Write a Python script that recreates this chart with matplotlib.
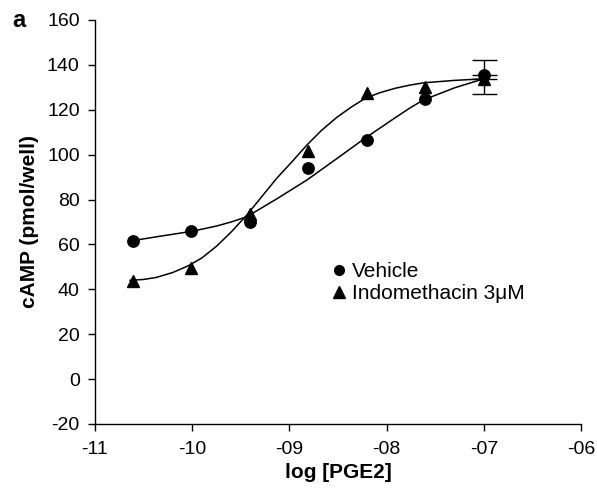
import matplotlib
matplotlib.use("Agg")
import matplotlib.pyplot as plt
from matplotlib.lines import Line2D

plt.rcParams['font.family'] = ['Liberation Sans', 'DejaVu Sans']
plt.rcParams['axes.unicode_minus'] = False

# Data (log [PGE2], cAMP pmol/well)
log_pge2 = [-10.61, -10.01, -9.41, -8.81, -8.20, -7.60, -7.0]
vehicle = [61.7, 65.8, 69.9, 94.1, 106.5, 125.0, 135.5]
indometh = [43.5, 49.5, 73.5, 101.6, 127.6, 130.3, 133.6]
# error bar only on the highest concentration (upper half on vehicle, lower half on indomethacin)
err_x = [-7.0]
veh_err_y = [135.5]
veh_err_up = [6.7]
ind_err_y = [133.6]
ind_err_down = [6.7]

# Fitted curves
veh_curve_x = [-10.64, -10.34, -10.04, -9.9, -9.75, -9.6, -9.44, -9.13, -8.82, -8.52,
               -8.22, -8.07, -7.91, -7.76, -7.62, -7.3, -7.0]
veh_curve_y = [61.5, 63.6, 65.6, 66.8, 68.2, 70.0, 72.3, 80.3, 88.7, 98.0,
               107.4, 111.8, 116.5, 120.8, 124.4, 129.8, 133.8]
ind_curve_x = [-10.64, -10.5, -10.37, -10.2, -10.04, -9.9, -9.75, -9.6, -9.44, -9.29,
               -9.13, -8.97, -8.82, -8.67, -8.51, -8.36, -8.22, -8.07, -7.91, -7.76,
               -7.62, -7.3, -7.0]
ind_curve_y = [44.0, 44.4, 45.3, 47.5, 50.5, 54.0, 59.2, 65.5, 73.0, 81.0,
               89.5, 97.0, 104.3, 110.8, 116.7, 121.3, 125.1, 127.6, 129.6, 131.0,
               132.0, 133.1, 133.8]

x_ticks = [-11, -10, -9, -8, -7, -6]
x_tick_labels = ['-11', '-10', '-09', '-08', '-07', '-06']
y_ticks = list(range(-20, 161, 20))

fig = plt.figure(figsize=(5.97, 4.88), dpi=100)
ax = fig.add_axes([95 / 597, 1 - 424 / 488, 486 / 597, 404 / 488])

ax.plot(veh_curve_x, veh_curve_y, color='black', lw=1.1, zorder=2)
ax.plot(ind_curve_x, ind_curve_y, color='black', lw=1.1, zorder=2)

ax.plot(log_pge2, vehicle, 'o', color='black', markersize=8.2, zorder=3)
ax.plot(log_pge2, indometh, '^', color='black', markersize=9, zorder=3)
ax.errorbar(err_x, veh_err_y, yerr=[[0], veh_err_up], fmt='none', ecolor='black',
            capsize=9, elinewidth=1, capthick=1, zorder=3)
ax.errorbar(err_x, ind_err_y, yerr=[ind_err_down, [0]], fmt='none', ecolor='black',
            capsize=9, elinewidth=1, capthick=1, zorder=3)

ax.set_xlim(-11, -6)
ax.set_ylim(-20, 160)
ax.set_xticks(x_ticks)
ax.set_xticklabels(x_tick_labels)
ax.set_yticks(y_ticks)
ax.tick_params(direction='out', length=5, width=1, labelsize=14, colors='black')
ax.tick_params(axis='x', pad=7)
ax.tick_params(axis='y', pad=6)
for s in ['top', 'right']:
    ax.spines[s].set_visible(False)
for s in ['left', 'bottom']:
    ax.spines[s].set_linewidth(1)

ax.set_xlabel('log [PGE2]', fontsize=15, fontweight='bold', labelpad=4)
ax.set_ylabel('cAMP (pmol/well)', fontsize=15, fontweight='bold', labelpad=6)

handles = [Line2D([], [], marker='o', ls='none', color='black', markersize=7),
           Line2D([], [], marker='^', ls='none', color='black', markersize=8)]
ax.legend(handles, ['Vehicle', 'Indomethacin 3\u03bcM'], frameon=False, fontsize=15,
          loc='upper left', bbox_to_anchor=((333 - 95) / 486, (424 - 262) / 404),
          handlelength=0.6, handletextpad=0.3, labelspacing=0.15, borderaxespad=0,
          borderpad=0)

fig.text(12 / 597, 1 - 27 / 488, 'a', fontsize=17, fontweight='bold', va='baseline')

fig.savefig('out.png', dpi=100)
